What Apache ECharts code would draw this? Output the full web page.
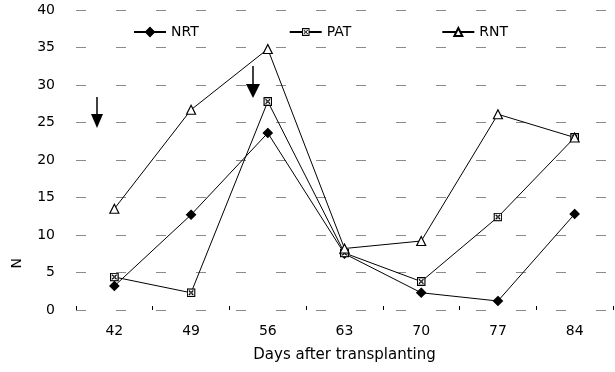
<!DOCTYPE html>
<html>
<head>
<meta charset="utf-8">
<script src="https://cdn.jsdelivr.net/npm/echarts@6/dist/echarts.min.js"></script>
<style>
  html, body { margin: 0; padding: 0; background: #fff; }
  #chart { width: 615px; height: 372px; }
</style>
</head>
<body>
<div id="chart"></div>
<script>
/* ---------------- Data ---------------- */
const days = ["42", "49", "56", "63", "70", "77", "84"];
const nrt = [3.2, 12.7, 23.6, 7.5, 2.3, 1.2, 12.8];
const pat = [4.4, 2.3, 27.8, 7.6, 3.8, 12.4, 23.0];
const rnt = [13.5, 26.7, 34.8, 8.2, 9.2, 26.1, 23.0];

const FONT = "DejaVu Sans";

// crossed box marker, drawn as a small inline svg
const boxSvg =
  '<svg xmlns="http://www.w3.org/2000/svg" width="20" height="20" viewBox="0 0 20 20">' +
  '<rect x="1.5" y="1.5" width="17" height="17" fill="#fff" stroke="#000" stroke-width="3"/>' +
  '<path d="M5,5L15,15M15,5L5,15" stroke="#000" stroke-width="2.4"/>' +
  '<rect x="7" y="7" width="6" height="6" fill="#444"/>' +
  "</svg>";
const boxSymbol = "image://data:image/svg+xml;charset=utf-8," + encodeURIComponent(boxSvg);

const mkSeries = (name, data, symbol, size, fill) => ({
  name,
  type: "line",
  data,
  symbol,
  symbolSize: size,
  showAllSymbol: true,
  lineStyle: { color: "#000", width: 1 },
  itemStyle: { color: fill, borderColor: "#000", borderWidth: 1.2 },
  emphasis: { disabled: true }
});

/* ---------------- Chart ---------------- */
const chart = echarts.init(document.getElementById("chart"), null, { renderer: "canvas" });

chart.setOption({
  animation: false,
  textStyle: { fontFamily: FONT },
  grid: { left: 76, right: 2, top: 10, bottom: 62 },
  legend: {
    left: 128,
    top: 20,
    itemGap: 90,
    itemWidth: 32,
    itemHeight: 10,
    textStyle: { fontFamily: FONT, fontSize: 14, color: "#000" },
    data: ["NRT", "PAT", "RNT"]
  },
  xAxis: {
    type: "category",
    data: days,
    boundaryGap: true,
    name: "Days after transplanting",
    nameLocation: "middle",
    nameGap: 38,
    nameTextStyle: { fontFamily: FONT, fontSize: 15, color: "#000" },
    axisLine: { show: false },
    axisTick: { show: true, inside: true, length: 4, lineStyle: { color: "#000" } },
    axisLabel: { fontSize: 14, color: "#000", margin: 14 }
  },
  yAxis: {
    type: "value",
    min: 0,
    max: 40,
    interval: 5,
    axisLine: { show: false },
    axisTick: { show: false },
    axisLabel: { fontSize: 14, color: "#000", margin: 21 },
    splitLine: { show: true, lineStyle: { color: "#8a8a8a", width: 1, type: [10, 30] } }
  },
  series: [
    mkSeries("NRT", nrt, "diamond", 9, "#000"),
    mkSeries("PAT", pat, boxSymbol, 9, "#000"),
    mkSeries("RNT", rnt, "triangle", 9, "#fff")
  ],
  graphic: [
    {
      type: "text",
      left: 10,
      top: 258,
      rotation: Math.PI / 2,
      style: { text: "N", fontFamily: FONT, fontSize: 14, fill: "#000" }
    },
    // arrows
    { type: "line", shape: { x1: 97, y1: 97, x2: 97, y2: 116 }, style: { stroke: "#000", lineWidth: 1.5 } },
    { type: "polygon", shape: { points: [[91, 114], [103, 114], [97, 128]] }, style: { fill: "#000" } },
    { type: "line", shape: { x1: 253, y1: 66, x2: 253, y2: 86 }, style: { stroke: "#000", lineWidth: 1.5 } },
    { type: "polygon", shape: { points: [[246, 84], [260, 84], [253, 98]] }, style: { fill: "#000" } }
  ]
});
</script>
</body>
</html>
